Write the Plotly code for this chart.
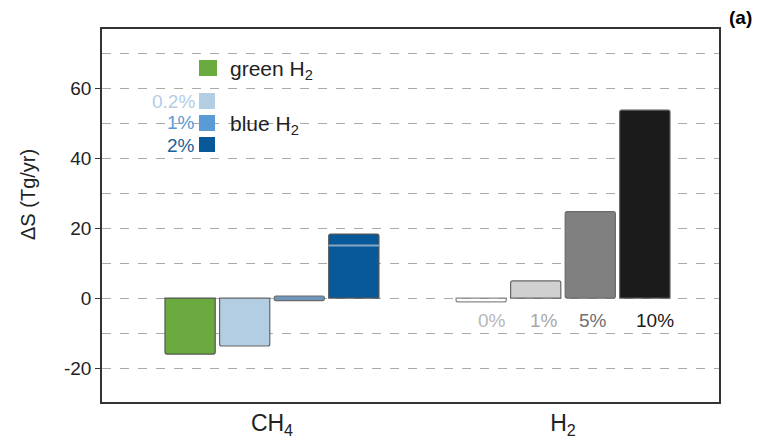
import plotly.graph_objects as go

categories = ["CH<sub>4</sub>", "H<sub>2</sub>"]

# slot-wise values (CH4 scenario, H2 scenario)
slot1_vals = [-16.0, -1.1]      # green H2 ; H2 0% (range bracket)
slot2_vals = [-13.7, 4.9]       # blue 0.2% ; H2 1%
slot3_vals = [1.3, 24.7]        # blue 1% ; H2 5%
slot3_base = [-0.7, 0.0]
slot4_vals = [18.3, 53.7]       # blue 2% ; H2 10%
slot4_inner_base = [14.9, None]  # inner range line in the 2% bar
slot4_inner_size = [0.25, None]

h2_pct_labels = ["0%", "1%", "5%", "10%"]
h2_label_y = -6.3
ytick_vals = [-20, 0, 20, 40, 60]
ytick_text = ["-20", "0", "20", "40", "60"]

colors1 = ["#6aaa3e", "rgba(255,255,255,0)"]
colors2 = ["#b3cde3", "#d0d0d0"]
colors3 = ["#6f96bd", "#808080"]
colors4 = ["#08599a", "#1b1b1b"]
line1 = ["#555555", "#8a8a8a"]

FONT = "Liberation Sans, Arial, sans-serif"
OFF = 8  # page body margin in the browser

fig = go.Figure()
fig.add_trace(go.Bar(x=categories, y=slot1_vals, offsetgroup="s1",
                     marker=dict(color=colors1, line=dict(color=line1, width=1.2), cornerradius=2), showlegend=False))
fig.add_trace(go.Bar(x=categories, y=slot2_vals, offsetgroup="s2",
                     marker=dict(color=colors2, line=dict(color="#666666", width=1.2), cornerradius=2), showlegend=False))
fig.add_trace(go.Bar(x=categories, y=slot3_vals, base=slot3_base, offsetgroup="s3",
                     marker=dict(color=colors3, line=dict(color="#6a6a6a", width=1.2), cornerradius=2), showlegend=False))
fig.add_trace(go.Bar(x=categories, y=slot4_vals, offsetgroup="s4",
                     marker=dict(color=colors4, line=dict(color="#555555", width=1.2), cornerradius=2), showlegend=False))
fig.add_trace(go.Bar(x=categories, y=slot4_inner_size, base=slot4_inner_base, offsetgroup="s4",
                     marker=dict(color="#6f93b8", line=dict(color="#93adc8", width=1)), showlegend=False, hoverinfo="skip"))

def px_x(px):
    return (px - OFF - 94) / (711 - 94)
def px_y(py):
    return (394 - (py - OFF)) / (394 - 21)

annotations = []
label_colors = ["#b8b8b8", "#a8a8a8", "#707070", "#1a1a1a"]
label_shifts = [-71, -19, 30, 92]
for t, c, s in zip(h2_pct_labels, label_colors, label_shifts):
    annotations.append(dict(x=categories[1], y=h2_label_y, text=t, showarrow=False, xshift=s,
                            font=dict(family=FONT, size=19, color=c)))

shapes = []
leg_items = [
    (199, 60, 217, 76, "#6aaa3e"),
    (199, 93, 215, 109, "#b3cde3"),
    (199, 115, 215, 131, "#5b9bd5"),
    (199, 137, 215, 152, "#08599a"),
]
for x0, y0, x1, y1, c in leg_items:
    shapes.append(dict(type="rect", xref="paper", yref="paper", x0=px_x(x0), x1=px_x(x1), y0=px_y(y1), y1=px_y(y0),
                       fillcolor=c, line=dict(width=0), layer="above"))

annotations.append(dict(xref="paper", yref="paper", x=px_x(228), y=px_y(70), text="green H<sub>2</sub>", showarrow=False,
                        xanchor="left", yanchor="middle", font=dict(family=FONT, size=21, color="#222222")))
annotations.append(dict(xref="paper", yref="paper", x=px_x(228), y=px_y(125), text="blue H<sub>2</sub>", showarrow=False,
                        xanchor="left", yanchor="middle", font=dict(family=FONT, size=21, color="#222222")))
for t, yy, c in [("0.2%", 101, "#b3cde3"), ("1%", 123, "#5b9bd5"), ("2%", 145, "#1d5f98")]:
    annotations.append(dict(xref="paper", yref="paper", x=px_x(197), y=px_y(yy), text=t, showarrow=False,
                            xanchor="right", yanchor="middle", font=dict(family=FONT, size=19, color=c)))

annotations.append(dict(xref="paper", yref="paper", x=px_x(28), y=px_y(195), text="ΔS (Tg/yr)", showarrow=False,
                        textangle=-90, xanchor="center", yanchor="middle", font=dict(family=FONT, size=20, color="#222222")))
annotations.append(dict(xref="paper", yref="paper", x=px_x(740), y=px_y(18), text="<b>(a)</b>", showarrow=False,
                        xanchor="center", yanchor="middle", font=dict(family=FONT, size=19, color="#000000")))

fig.update_layout(
    width=763 - OFF, height=442 - OFF,
    margin=dict(l=94, r=44, t=21, b=40, autoexpand=False),
    paper_bgcolor="white", plot_bgcolor="white",
    barmode="group", bargap=0.25, bargroupgap=0.08,
    font=dict(family=FONT, color="#222222"),
    annotations=annotations, shapes=shapes,
)
fig.update_xaxes(type="category", range=[-0.584, 1.536], showline=True, mirror=True, linecolor="#333333", linewidth=1.5,
                 ticks="", showgrid=False, automargin=False, tickfont=dict(size=23, color="#222222"))
fig.update_yaxes(range=[-29.7, 76.9], tickvals=ytick_vals, ticktext=ytick_text, ticks="outside", ticklen=5, tickcolor="#333333",
                 showline=True, mirror=True, linecolor="#333333", linewidth=1.5, zeroline=False, automargin=False,
                 showgrid=True, gridcolor="#aaaaaa", griddash="dash", gridwidth=1,
                 minor=dict(tickvals=[-10, 10, 30, 50, 70], showgrid=True, gridcolor="#aaaaaa", griddash="dash", ticks=""),
                 tickfont=dict(size=19, color="#222222"))

fig.write_html("out.html")
